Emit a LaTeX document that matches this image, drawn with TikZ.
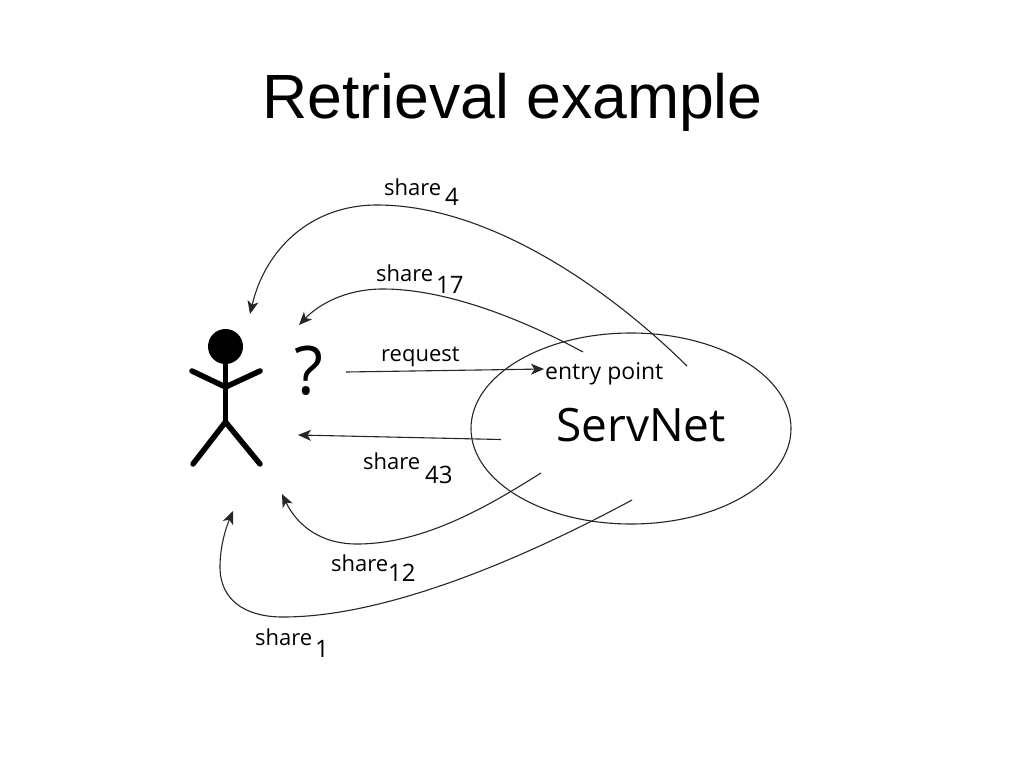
\documentclass[tikz,border=0pt]{standalone}
\usepackage{fontspec}
\setmainfont{Liberation Sans}
\newfontfamily\lab{Open Sans}
\usetikzlibrary{arrows.meta,shapes.geometric}
\tikzset{
  curve/.style={draw=black!85,line width=1.1pt,-{Stealth[length=13pt,width=11pt,inset=3.5pt]}},
  lbl/.style={font=\lab\fontsize{22}{22}\selectfont,inner sep=0pt,text=black,anchor=base west},
  sub/.style={font=\lab\fontsize{24}{24}\selectfont,inner sep=0pt,text=black,anchor=base west},
  fig/.style={line width=5.5pt,black,line cap=round,line join=round}
}
\begin{document}
\begin{tikzpicture}[x=1pt,y=-1pt]
\useasboundingbox (0,0) rectangle (1024,768);
\fill[white] (0,0) rectangle (1024,768);
\node[font=\fontsize{62.5}{62.5}\selectfont,inner sep=0pt,anchor=base] (title) at (512.5,118) {Retrieval example};
% ellipse
\node[draw=black!85,line width=1.1pt,ellipse,minimum width=320pt,minimum height=191pt,inner sep=0pt] (net) at (631,428.5) {};
\node[font=\lab\fontsize{46}{46}\selectfont,inner sep=0pt,anchor=base west,text=black] (sn) at (556,441.5) {ServNet};
\node[font=\lab\fontsize{23}{23}\selectfont,inner sep=0pt,anchor=base west,text=black] (ep) at (545,379) {entry point};
% figure
\fill (225.5,346.5) circle (17.5pt);
\coordinate (neck) at (225.5,360);
\coordinate (hip) at (225.5,422);
\draw[fig] (neck) -- (hip);
\draw[fig] (192,371) -- (225.5,387) -- (260,371);
\draw[fig] (193,464) -- (hip) -- (260,464);
\node[font=\lab\fontsize{67}{67}\selectfont,inner sep=0pt,anchor=base,text=black] (q) at (309,394) {?};
% connectors
\coordinate (a4s) at (687,366); \coordinate (a4e) at (250,314);
\draw[curve] (a4s) .. controls (610,290) and (490,205) .. (377,205) .. controls (310,205) and (265,250) .. (a4e);
\coordinate (a17s) at (583,352); \coordinate (a17e) at (299,325);
\draw[curve] (a17s) .. controls (520,318) and (445,289) .. (383,289) .. controls (345,289) and (318,305) .. (a17e);
\coordinate (rs) at (346,372);
\coordinate (re) at (544,369);
\draw[curve] (rs) -- (re);
\coordinate (a43s) at (501,439.5); \coordinate (a43e) at (298,435);
\draw[curve] (a43s) -- (a43e);
\coordinate (a12s) at (541,473); \coordinate (a12e) at (282,494);
\draw[curve] (a12s) .. controls (490,505) and (425,544) .. (357,544) .. controls (320,544) and (297,525) .. (a12e);
\coordinate (a1s) at (632,500); \coordinate (a1e) at (233,511);
\draw[curve] (a1s) .. controls (530,555) and (390,617) .. (283,617) .. controls (245,617) and (220,600) .. (220,567) .. controls (220,548) and (225,530) .. (a1e);
% labels
\node[lbl] (t4) at (384,195) {share}; \node[sub] (n4) at (445,205) {4};
\node[lbl] (t17) at (376,281) {share}; \node[sub] (n17) at (436,293) {17};
\node[lbl] (tr) at (381,361) {request};
\node[lbl] (t43) at (363,469) {share}; \node[sub] (n43) at (425,483) {43};
\node[lbl] (t12) at (331,571) {share}; \node[sub] (n12) at (388,581) {12};
\node[lbl] (t1) at (255,645) {share}; \node[sub] (n1) at (315,657) {1};
\end{tikzpicture}
\end{document}
